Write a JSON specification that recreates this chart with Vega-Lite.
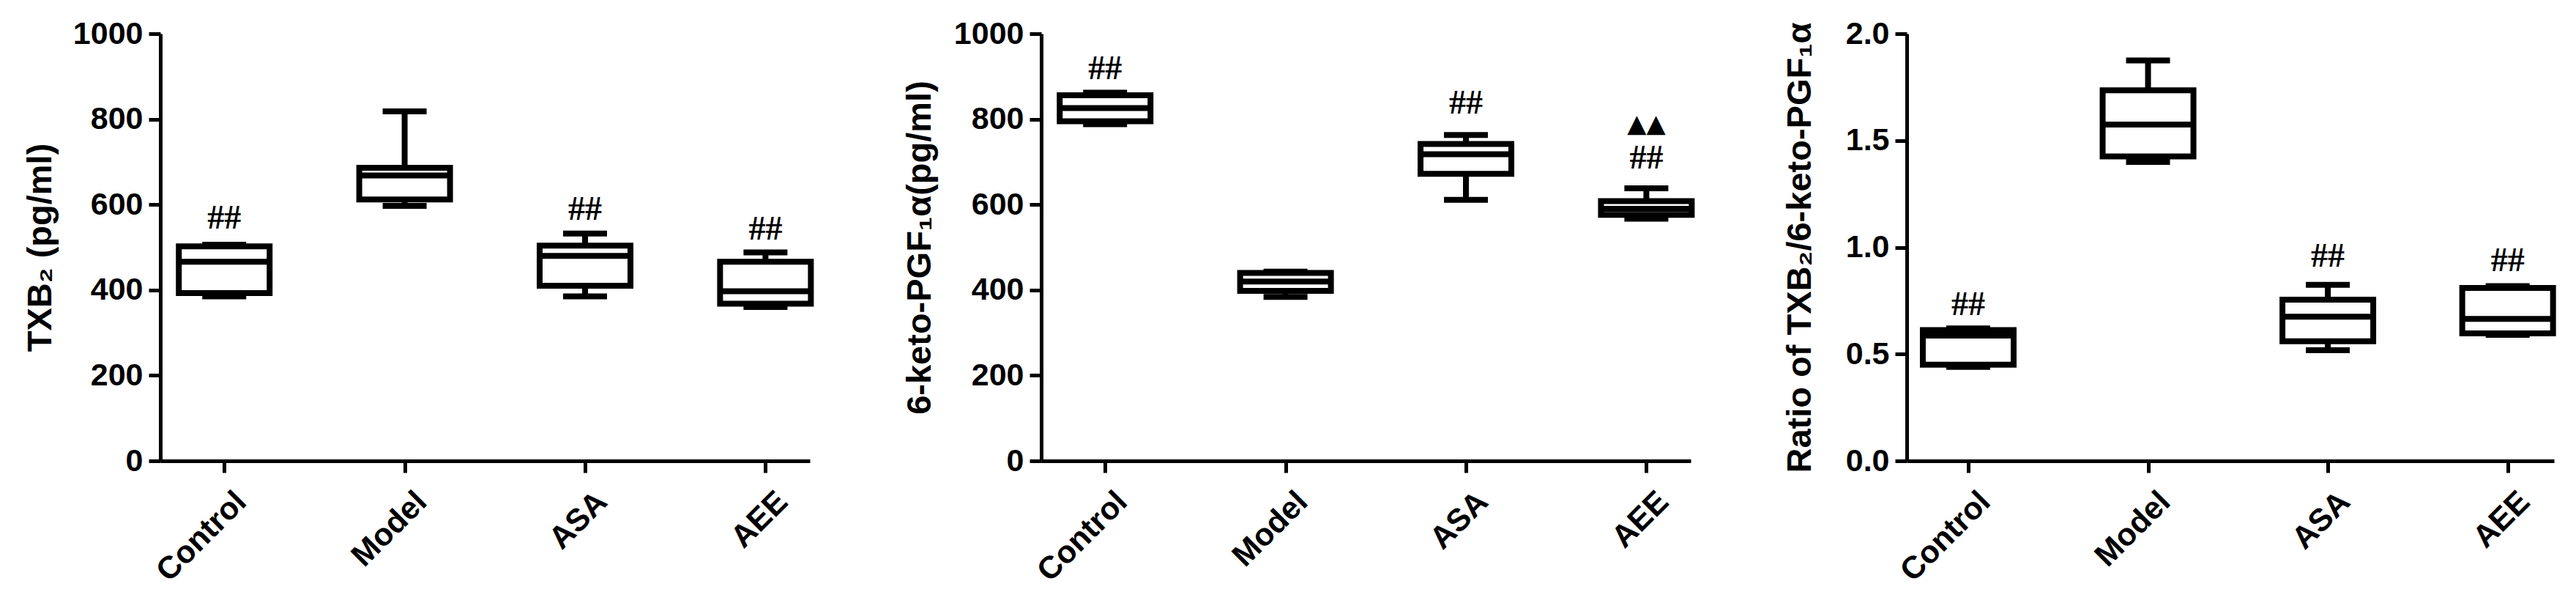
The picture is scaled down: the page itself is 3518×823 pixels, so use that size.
{
  "$schema": "https://vega.github.io/schema/vega-lite/v6.json",
  "padding": {"left": 31, "top": 25, "right": 5, "bottom": 5},
  "background": "white",
  "bounds": "flush",
  "spacing": 316,
  "config": {
    "view": {"stroke": null},
    "axis": {
      "grid": false,
      "domainColor": "black", "domainWidth": 5,
      "tickColor": "black", "tickWidth": 5, "tickSize": 16,
      "labelFont": "Liberation Sans", "labelFontWeight": "bold", "labelFontSize": 43, "labelColor": "black", "labelPadding": 8,
      "titleFont": "Liberation Sans", "titleFontWeight": "bold", "titleFontSize": 47, "titleColor": "black", "titlePadding": 20
    },
    "axisX": {"labelAngle": -45, "labelPadding": 18, "labelOffset": 8, "title": null}
  },
  "datasets": {
    "txb": [
      {"group": "Control", "min": 385, "q1": 393, "median": 466, "q3": 502, "max": 506},
      {"group": "Model", "min": 597, "q1": 612, "median": 668, "q3": 686, "max": 818},
      {"group": "ASA", "min": 385, "q1": 410, "median": 480, "q3": 504, "max": 532},
      {"group": "AEE", "min": 360, "q1": 368, "median": 397, "q3": 466, "max": 488}
    ],
    "keto": [
      {"group": "Control", "min": 788, "q1": 795, "median": 826, "q3": 856, "max": 862},
      {"group": "Model", "min": 384, "q1": 398, "median": 420, "q3": 440, "max": 443},
      {"group": "ASA", "min": 611, "q1": 672, "median": 718, "q3": 742, "max": 763},
      {"group": "AEE", "min": 567, "q1": 576, "median": 590, "q3": 608, "max": 638}
    ],
    "ratio": [
      {"group": "Control", "min": 0.44, "q1": 0.45, "median": 0.587, "q3": 0.612, "max": 0.62},
      {"group": "Model", "min": 1.4, "q1": 1.425, "median": 1.575, "q3": 1.735, "max": 1.875},
      {"group": "ASA", "min": 0.518, "q1": 0.56, "median": 0.675, "q3": 0.755, "max": 0.824},
      {"group": "AEE", "min": 0.59, "q1": 0.597, "median": 0.665, "q3": 0.81, "max": 0.818}
    ],
    "ann_txb": [
      {"group": "Control", "y": 568, "label": "##"},
      {"group": "ASA", "y": 588, "label": "##"},
      {"group": "AEE", "y": 542, "label": "##"}
    ],
    "ann_keto": [
      {"group": "Control", "y": 918, "label": "##"},
      {"group": "ASA", "y": 837, "label": "##"},
      {"group": "AEE", "y": 708, "label": "##"}
    ],
    "tri_keto": [
      {"group": "AEE", "y": 787, "label": "▲▲"}
    ],
    "ann_ratio": [
      {"group": "Control", "y": 0.73, "label": "##"},
      {"group": "ASA", "y": 0.957, "label": "##"},
      {"group": "AEE", "y": 0.937, "label": "##"}
    ]
  },
  "hconcat": [
    {
      "width": 887, "height": 583,
      "data": {"name": "txb"},
      "encoding": {
        "x": {"field": "group", "type": "nominal",
          "scale": {"type": "point", "domain": ["Control", "Model", "ASA", "AEE"], "padding": 0.3, "align": 0.59},
          "axis": {"title": null}}
      },
      "layer": [
        {"mark": {"type": "rule", "strokeWidth": 8, "color": "black"},
         "encoding": {"y": {"field": "min", "type": "quantitative", "scale": {"domain": [0, 1000], "nice": false},
            "axis": {"title": "TXB₂ (pg/ml)", "values": [0, 200, 400, 600, 800, 1000], "format": "d", "titlePadding": 20}},
           "y2": {"field": "max"}}},
        {"mark": {"type": "tick", "size": 60, "thickness": 8, "color": "black", "opacity": 1},
         "encoding": {"y": {"field": "min", "type": "quantitative", "axis": {"title": "TXB₂ (pg/ml)", "values": [0, 200, 400, 600, 800, 1000], "format": "d", "titlePadding": 20}}}},
        {"mark": {"type": "tick", "size": 60, "thickness": 8, "color": "black", "opacity": 1},
         "encoding": {"y": {"field": "max", "type": "quantitative", "axis": {"title": "TXB₂ (pg/ml)", "values": [0, 200, 400, 600, 800, 1000], "format": "d", "titlePadding": 20}}}},
        {"mark": {"type": "bar", "size": 124, "fill": "white", "stroke": "black", "strokeWidth": 8},
         "encoding": {"y": {"field": "q1", "type": "quantitative", "axis": {"title": "TXB₂ (pg/ml)", "values": [0, 200, 400, 600, 800, 1000], "format": "d", "titlePadding": 20}}, "y2": {"field": "q3"}}},
        {"mark": {"type": "tick", "size": 124, "thickness": 8, "color": "black", "opacity": 1},
         "encoding": {"y": {"field": "median", "type": "quantitative", "axis": {"title": "TXB₂ (pg/ml)", "values": [0, 200, 400, 600, 800, 1000], "format": "d", "titlePadding": 20}}}},
        {"data": {"name": "ann_txb"},
         "mark": {"type": "text", "font": "Liberation Serif", "fontWeight": "bold", "fontSize": 46, "baseline": "middle", "color": "black"},
         "encoding": {"y": {"field": "y", "type": "quantitative", "axis": {"title": "TXB₂ (pg/ml)", "values": [0, 200, 400, 600, 800, 1000], "format": "d", "titlePadding": 20}}, "text": {"field": "label"}}}
      ]
    },
    {
      "bounds": "flush",
      "spacing": 295,
      "hconcat": [
        {
          "width": 887, "height": 583,
          "data": {"name": "keto"},
          "encoding": {
            "x": {"field": "group", "type": "nominal",
              "scale": {"type": "point", "domain": ["Control", "Model", "ASA", "AEE"], "padding": 0.3, "align": 0.59},
              "axis": {"title": null}}
          },
          "layer": [
            {"mark": {"type": "rule", "strokeWidth": 8, "color": "black"},
             "encoding": {"y": {"field": "min", "type": "quantitative", "scale": {"domain": [0, 1000], "nice": false},
                "axis": {"title": "6-keto-PGF₁α(pg/ml)", "values": [0, 200, 400, 600, 800, 1000], "format": "d", "titlePadding": 22}},
               "y2": {"field": "max"}}},
            {"mark": {"type": "tick", "size": 60, "thickness": 8, "color": "black", "opacity": 1},
             "encoding": {"y": {"field": "min", "type": "quantitative", "axis": {"title": "6-keto-PGF₁α(pg/ml)", "values": [0, 200, 400, 600, 800, 1000], "format": "d", "titlePadding": 22}}}},
            {"mark": {"type": "tick", "size": 60, "thickness": 8, "color": "black", "opacity": 1},
             "encoding": {"y": {"field": "max", "type": "quantitative", "axis": {"title": "6-keto-PGF₁α(pg/ml)", "values": [0, 200, 400, 600, 800, 1000], "format": "d", "titlePadding": 22}}}},
            {"mark": {"type": "bar", "size": 124, "fill": "white", "stroke": "black", "strokeWidth": 8},
             "encoding": {"y": {"field": "q1", "type": "quantitative", "axis": {"title": "6-keto-PGF₁α(pg/ml)", "values": [0, 200, 400, 600, 800, 1000], "format": "d", "titlePadding": 22}}, "y2": {"field": "q3"}}},
            {"mark": {"type": "tick", "size": 124, "thickness": 8, "color": "black", "opacity": 1},
             "encoding": {"y": {"field": "median", "type": "quantitative", "axis": {"title": "6-keto-PGF₁α(pg/ml)", "values": [0, 200, 400, 600, 800, 1000], "format": "d", "titlePadding": 22}}}},
            {"data": {"name": "ann_keto"},
             "mark": {"type": "text", "font": "Liberation Serif", "fontWeight": "bold", "fontSize": 46, "baseline": "middle", "color": "black"},
             "encoding": {"y": {"field": "y", "type": "quantitative", "axis": {"title": "6-keto-PGF₁α(pg/ml)", "values": [0, 200, 400, 600, 800, 1000], "format": "d", "titlePadding": 22}}, "text": {"field": "label"}}},
            {"data": {"name": "tri_keto"},
             "mark": {"type": "text", "font": "DejaVu Sans", "fontSize": 34, "baseline": "middle", "color": "black"},
             "encoding": {"y": {"field": "y", "type": "quantitative", "axis": {"title": "6-keto-PGF₁α(pg/ml)", "values": [0, 200, 400, 600, 800, 1000], "format": "d", "titlePadding": 22}}, "text": {"field": "label"}}}
          ]
        },
        {
          "width": 884, "height": 583,
          "data": {"name": "ratio"},
          "encoding": {
            "x": {"field": "group", "type": "nominal",
              "scale": {"type": "point", "domain": ["Control", "Model", "ASA", "AEE"], "padding": 0.3, "align": 0.57},
              "axis": {"title": null}}
          },
          "layer": [
            {"mark": {"type": "rule", "strokeWidth": 8, "color": "black"},
             "encoding": {"y": {"field": "min", "type": "quantitative", "scale": {"domain": [0, 2], "nice": false},
                "axis": {"title": "Ratio of TXB₂/6-keto-PGF₁α", "values": [0, 0.5, 1, 1.5, 2], "format": ".1f", "titlePadding": 38}},
               "y2": {"field": "max"}}},
            {"mark": {"type": "tick", "size": 60, "thickness": 8, "color": "black", "opacity": 1},
             "encoding": {"y": {"field": "min", "type": "quantitative", "axis": {"title": "Ratio of TXB₂/6-keto-PGF₁α", "values": [0, 0.5, 1, 1.5, 2], "format": ".1f", "titlePadding": 38}}}},
            {"mark": {"type": "tick", "size": 60, "thickness": 8, "color": "black", "opacity": 1},
             "encoding": {"y": {"field": "max", "type": "quantitative", "axis": {"title": "Ratio of TXB₂/6-keto-PGF₁α", "values": [0, 0.5, 1, 1.5, 2], "format": ".1f", "titlePadding": 38}}}},
            {"mark": {"type": "bar", "size": 124, "fill": "white", "stroke": "black", "strokeWidth": 8},
             "encoding": {"y": {"field": "q1", "type": "quantitative", "axis": {"title": "Ratio of TXB₂/6-keto-PGF₁α", "values": [0, 0.5, 1, 1.5, 2], "format": ".1f", "titlePadding": 38}}, "y2": {"field": "q3"}}},
            {"mark": {"type": "tick", "size": 124, "thickness": 8, "color": "black", "opacity": 1},
             "encoding": {"y": {"field": "median", "type": "quantitative", "axis": {"title": "Ratio of TXB₂/6-keto-PGF₁α", "values": [0, 0.5, 1, 1.5, 2], "format": ".1f", "titlePadding": 38}}}},
            {"data": {"name": "ann_ratio"},
             "mark": {"type": "text", "font": "Liberation Serif", "fontWeight": "bold", "fontSize": 46, "baseline": "middle", "color": "black"},
             "encoding": {"y": {"field": "y", "type": "quantitative", "axis": {"title": "Ratio of TXB₂/6-keto-PGF₁α", "values": [0, 0.5, 1, 1.5, 2], "format": ".1f", "titlePadding": 38}}, "text": {"field": "label"}}}
          ]
        }
      ]
    }
  ]
}
